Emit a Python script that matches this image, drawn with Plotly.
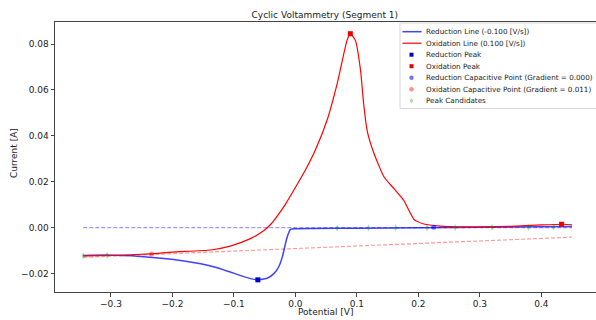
import plotly.graph_objects as go

# ---- data ----
ox_potential = [-0.345, -0.300, -0.236, -0.200, -0.138, -0.106, -0.080, -0.070, -0.060, -0.050,
                -0.040, -0.0325, -0.0163, 0.000, 0.0163, 0.0325, 0.0515, 0.068, 0.084, 0.0894, 0.0976,
                0.106, 0.111, 0.117, 0.127, 0.144, 0.160, 0.176, 0.193, 0.209, 0.236,
                0.268, 0.300, 0.350, 0.400, 0.435, 0.450]
ox_current = [-0.0123, -0.0121, -0.0114, -0.0106, -0.0097, -0.0080, -0.0055, -0.0043, -0.0028, -0.0010,
              0.0015, 0.0040, 0.0102, 0.0175, 0.0251, 0.0338, 0.0468, 0.0628, 0.0816, 0.0845, 0.0816,
              0.0686, 0.0541, 0.0420, 0.0330, 0.0222, 0.0171, 0.0120, 0.0036, 0.0016, 0.0007,
              0.0004, 0.0004, 0.0006, 0.0012, 0.0015, 0.0013]

red_potential = [0.450, 0.400, 0.300, 0.200, 0.100, 0.030, 0.000, -0.008, -0.012, -0.016,
                 -0.021, -0.027, -0.035, -0.046, -0.063, -0.084, -0.106, -0.130, -0.154,
                 -0.198, -0.252, -0.306, -0.345]
red_current = [0.0005, 0.0004, 0.0002, 0.0000, -0.0002, -0.0003, -0.0004, -0.0007, -0.0030, -0.0068,
               -0.0125, -0.0170, -0.0200, -0.0220, -0.0227, -0.0213, -0.0193, -0.0172, -0.0157,
               -0.0138, -0.0125, -0.0119, -0.0121]

red_peak_x = [-0.061]
red_peak_y = [-0.0227]
ox_peak_x = [0.0894, 0.433]
ox_peak_y = [0.0845, 0.0015]

red_cap_x = [0.225]
red_cap_y = [0.0002]
ox_cap_x = [-0.234]
ox_cap_y = [-0.0115]

red_base_x = [-0.345, 0.450]
red_base_y = [0.0000, 0.0000]
ox_base_x = [-0.345, 0.450]
ox_base_y = [-0.0129, -0.0041]

cand_x = [-0.345, -0.306, 0.068, 0.119, 0.163, 0.214, 0.260, 0.320, 0.379, 0.420]
cand_y = [-0.0122, -0.0120, -0.0002, -0.0001, 0.0000, 0.0000, 0.0001, 0.0002, 0.0002, 0.0003]

legend_labels = ["Reduction Line (-0.100 [V/s])", "Oxidation Line (0.100 [V/s])",
                 "Reduction Peak", "Oxidation Peak",
                 "Reduction Capacitive Point (Gradient = 0.000)",
                 "Oxidation Capacitive Point (Gradient = 0.011)", "Peak Candidates"]

FONT = "DejaVu Sans"
C_BLUE = "rgba(0,0,255,0.75)"
C_RED = "rgb(255,0,0)"
C_BPEAK = "#0000cc"
C_RPEAK = "#ee0000"
C_BCAP = "rgba(0,0,255,0.55)"
C_RCAP = "rgba(255,0,0,0.45)"
C_CAND = "rgba(0,150,0,0.35)"

W, H = 596, 320
ML, MR, MT, MB = 55, 0, 22, 28
PW, PH = W - ML - MR, H - MT - MB


def px(xp):
    return (xp - ML) / PW


def py(yp):
    return (H - MB - yp) / PH


fig = go.Figure()
fig.add_trace(go.Scatter(x=red_base_x, y=red_base_y, mode="lines", showlegend=False,
                         line=dict(color="rgba(0,0,255,0.4)", width=1.2, dash="4px,2px")))
fig.add_trace(go.Scatter(x=ox_base_x, y=ox_base_y, mode="lines", showlegend=False,
                         line=dict(color="rgba(255,0,0,0.4)", width=1.2, dash="4px,2px")))
fig.add_trace(go.Scatter(x=red_potential, y=red_current, mode="lines", showlegend=False,
                         name=legend_labels[0],
                         line=dict(color=C_BLUE, width=1.5, shape="spline", smoothing=0.5)))
fig.add_trace(go.Scatter(x=ox_potential, y=ox_current, mode="lines", showlegend=False,
                         name=legend_labels[1],
                         line=dict(color=C_RED, width=1.2, shape="spline", smoothing=0.5)))
fig.add_trace(go.Scatter(x=red_peak_x, y=red_peak_y, mode="markers", showlegend=False,
                         name=legend_labels[2],
                         marker=dict(symbol="square", size=5, color=C_BPEAK)))
fig.add_trace(go.Scatter(x=ox_peak_x, y=ox_peak_y, mode="markers", showlegend=False,
                         name=legend_labels[3],
                         marker=dict(symbol="square", size=5, color=C_RPEAK)))
fig.add_trace(go.Scatter(x=red_cap_x, y=red_cap_y, mode="markers", showlegend=False,
                         name=legend_labels[4],
                         marker=dict(symbol="circle", size=5, color=C_BCAP)))
fig.add_trace(go.Scatter(x=ox_cap_x, y=ox_cap_y, mode="markers", showlegend=False,
                         name=legend_labels[5],
                         marker=dict(symbol="circle", size=5, color=C_RCAP)))
fig.add_trace(go.Scatter(x=cand_x, y=cand_y, mode="markers", showlegend=False,
                         name=legend_labels[6],
                         marker=dict(symbol="diamond-tall", size=5, color=C_CAND)))

# ---- custom legend (matplotlib-style compact box) ----
shapes = []
annotations = []
shapes.append(dict(type="rect", xref="paper", yref="paper", x0=px(400), x1=px(600),
                   y0=py(108.5), y1=py(23), line=dict(color="#d6d6d6", width=1),
                   fillcolor="rgba(255,255,255,0.85)", layer="above"))
row0, dy = 31.7, 11.5
sx0, sx1, sxm, tx = 402.5, 421.5, 411.5, 423.5
for i, lab in enumerate(legend_labels):
    yc = row0 + dy * i
    annotations.append(dict(text=lab, xref="paper", yref="paper", x=px(tx), y=py(yc),
                            xanchor="left", yanchor="middle", showarrow=False,
                            font=dict(family=FONT, size=7.2, color="#222")))
    if i == 0:
        shapes.append(dict(type="line", xref="paper", yref="paper", x0=px(sx0), x1=px(sx1),
                           y0=py(yc), y1=py(yc), line=dict(color=C_BLUE, width=1.5)))
    elif i == 1:
        shapes.append(dict(type="line", xref="paper", yref="paper", x0=px(sx0), x1=px(sx1),
                           y0=py(yc), y1=py(yc), line=dict(color=C_RED, width=1.2)))
    elif i in (2, 3):
        c = C_BPEAK if i == 2 else C_RPEAK
        shapes.append(dict(type="rect", xref="paper", yref="paper", x0=px(sxm - 2), x1=px(sxm + 2),
                           y0=py(yc + 2), y1=py(yc - 2), line=dict(width=0), fillcolor=c))
    elif i in (4, 5):
        c = C_BCAP if i == 4 else C_RCAP
        shapes.append(dict(type="circle", xref="paper", yref="paper", x0=px(sxm - 2.2), x1=px(sxm + 2.2),
                           y0=py(yc + 2.2), y1=py(yc - 2.2), line=dict(width=0), fillcolor=c))
    else:
        path = "M {} {} L {} {} L {} {} L {} {} Z".format(
            px(sxm), py(yc - 3), px(sxm + 1.6), py(yc), px(sxm), py(yc + 3), px(sxm - 1.6), py(yc))
        shapes.append(dict(type="path", xref="paper", yref="paper", path=path,
                           line=dict(width=0), fillcolor=C_CAND))

# axis titles
annotations.append(dict(text="Potential [V]", xref="paper", yref="paper", x=px(325.5), y=py(311.5),
                        xanchor="center", yanchor="middle", showarrow=False,
                        font=dict(family=FONT, size=9, color="#222")))
annotations.append(dict(text="Current [A]", xref="paper", yref="paper", x=px(14), y=py(153),
                        xanchor="center", yanchor="middle", showarrow=False, textangle=-90,
                        font=dict(family=FONT, size=9, color="#222")))

axis_common = dict(showgrid=False, zeroline=False, showline=True, linecolor="#444",
                   linewidth=1, ticks="outside", ticklen=3.5, tickcolor="#444", automargin=False,
                   tickfont=dict(family=FONT, size=9, color="#222"))
fig.update_layout(
    width=W, height=H,
    margin=dict(l=ML, r=MR, t=MT, b=MB),
    paper_bgcolor="white", plot_bgcolor="white",
    font=dict(family=FONT, color="#222"),
    showlegend=False,
    title=dict(text="Cyclic Voltammetry (Segment 1)", x=0.545, xanchor="center",
               y=0.953, yanchor="middle", font=dict(family=FONT, size=9, color="#222")),
    xaxis=dict(range=[-0.391, 0.489], tickvals=[-0.3, -0.2, -0.1, 0.0, 0.1, 0.2, 0.3, 0.4],
               tickformat=".1f", mirror=True, **axis_common),
    yaxis=dict(range=[-0.028, 0.0896], tickvals=[-0.02, 0.0, 0.02, 0.04, 0.06, 0.08],
               tickformat=".2f", **axis_common),
    shapes=shapes,
    annotations=annotations,
)

# remove the browser's default 8px body margin so the figure sits at the page origin
fig.write_html("out.html", config={"displayModeBar": False},
               post_script="document.body.style.margin='0';document.body.style.overflow='hidden';")
